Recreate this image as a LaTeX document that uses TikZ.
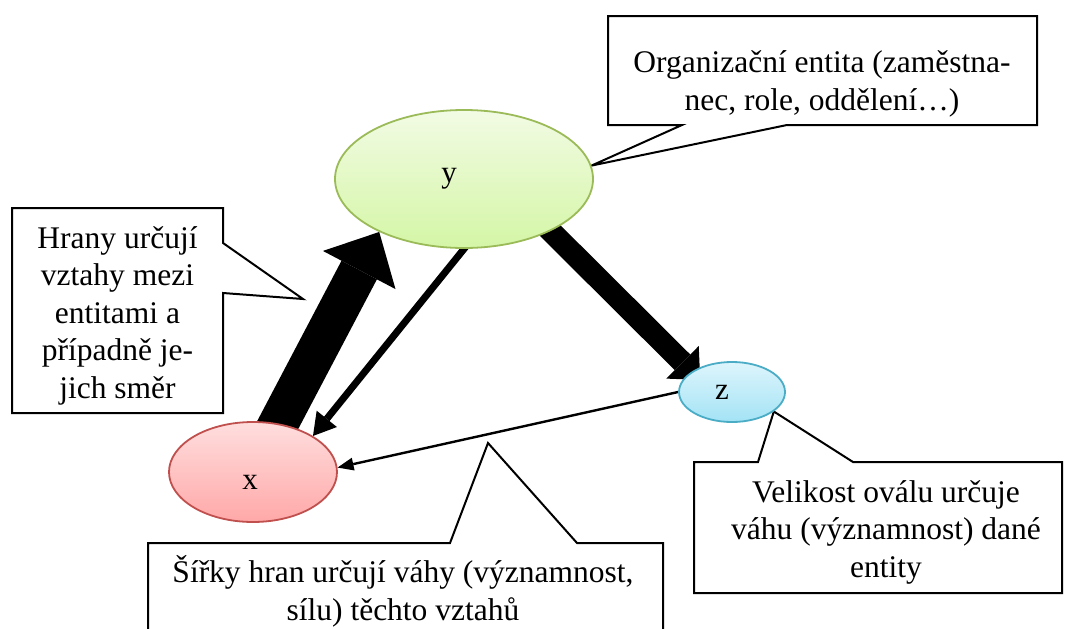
\documentclass[tikz,border=0pt]{standalone}
\usepackage{fontspec}
\setmainfont{Liberation Serif}
\usetikzlibrary{arrows.meta,shapes.geometric}
\pgfdeclarelayer{background}
\pgfsetlayers{background,main}

% entity fills and outlines
\definecolor{yTop}{RGB}{242,251,228}
\definecolor{yBot}{RGB}{212,246,166}
\definecolor{yLine}{RGB}{155,187,89}
\definecolor{xTop}{RGB}{255,222,222}
\definecolor{xBot}{RGB}{255,168,168}
\definecolor{xLine}{RGB}{192,80,77}
\definecolor{zTop}{RGB}{222,245,252}
\definecolor{zBot}{RGB}{163,227,245}
\definecolor{zLine}{RGB}{75,172,198}

\begin{document}
\begin{tikzpicture}[x=1pt,y=-1pt,
  entity/.style={ellipse, line width=1.8pt, inner sep=0pt},
  letter/.style={font=\fontsize{31}{37}\selectfont},
  % multi-line notes are anchored at the baseline of their last line
  note/.style={align=center, font=\fontsize{31.5}{37.5}\selectfont, inner sep=0pt, anchor=base},
  outline/.style={draw=black, fill=white, line width=2pt, line join=miter},
  link/.style={draw=black, line cap=butt}
]
\useasboundingbox (0,0) rectangle (1066,629);

% entities
\node[entity, draw=yLine, top color=yTop, bottom color=yBot,
      minimum width=258pt, minimum height=138pt,
      label={[letter, xshift=-15pt]center:y}] (y) at (464,179) {};
\node[entity, draw=xLine, top color=xTop, bottom color=xBot,
      minimum width=168pt, minimum height=100pt,
      label={[letter, xshift=-3pt, yshift=-10pt]center:x}] (x) at (253,472) {};
\node[entity, draw=zLine, top color=zTop, bottom color=zBot,
      minimum width=106pt, minimum height=60pt,
      label={[letter, xshift=-10pt]center:z}] (z) at (732,392) {};

% callout texts
\node[note] (orgnote) at (822,110) {Organizační entita (zaměstna-\\nec, role, oddělení…)};
\node[note] (edgenote) at (117.5,398) {Hrany určují\\vztahy mezi\\entitami a\\případně je-\\jich směr};
\node[note] (sizenote) at (886,577) {Velikost oválu určuje\\váhu (významnost) dané\\entity};
\node[note] (widthnote) at (403,620) {Šířky hran určují váhy (významnost,\\sílu) těchto vztahů};

% callout pointer tips
\coordinate (orgtip) at (y.6);
\coordinate (edgetip) at (303,299);
\coordinate (sizetip) at (z.-25);
\coordinate (widthtip) at (488,443);

\begin{pgfonlayer}{background}
  % callout outlines
  \draw[outline] (608,16) -- (1037,16) -- (1037,125) -- (787,125) -- (orgtip)
        -- (682,125) -- (608,125) -- cycle;
  \draw[outline] (12,208) -- (223,208) -- (223,243) -- (edgetip) -- (223,293)
        -- (223,413) -- (12,413) -- cycle;
  \draw[outline] (694,462) -- (758,462) -- (sizetip) -- (853,462) -- (1062,462)
        -- (1062,593) -- (694,593) -- cycle;
  \draw[outline] (148,660) -- (148,543) -- (450,543) -- (widthtip) -- (577,543)
        -- (663,543) -- (663,660);

  % weighted relations
  \draw[link, line width=40pt, -{Triangle[width=82pt,length=43pt,line width=0pt]}]
        (x.center) -- (y.212);
  \draw[link, line width=7pt, -{Triangle[width=26pt,length=22pt,line width=0pt]},
        shorten <=-6pt] (y.270) -- (x.31);
  \draw[link, line width=22pt, -{Triangle[width=46pt,length=25pt,line width=0pt]},
        shorten <=-15pt, shorten >=-12pt] (y.-31) -- (z.153);
  \draw[link, line width=2.4pt, -{Triangle[width=13pt,length=16pt,line width=0pt]}]
        (z.180) -- (x.3);
\end{pgfonlayer}
\end{tikzpicture}
\end{document}
